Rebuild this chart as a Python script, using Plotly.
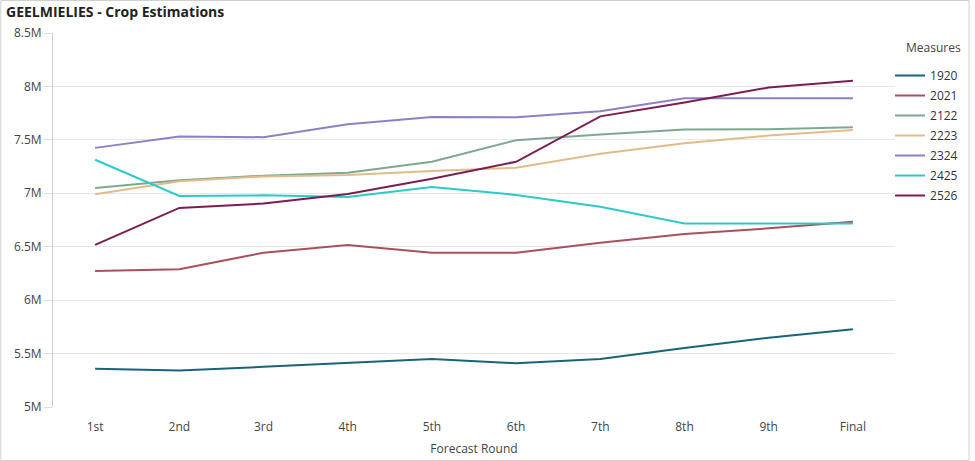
import plotly.graph_objects as go

rounds = ["1st", "2nd", "3rd", "4th", "5th", "6th", "7th", "8th", "9th", "Final"]

s1920 = [5.357, 5.342, 5.376, 5.413, 5.45, 5.41, 5.45, 5.553, 5.649, 5.727]
s2021 = [6.273, 6.289, 6.444, 6.516, 6.444, 6.444, 6.537, 6.62, 6.672, 6.733]
s2122 = [7.05, 7.121, 7.165, 7.193, 7.295, 7.497, 7.55, 7.596, 7.6, 7.618]
s2223 = [6.99, 7.112, 7.158, 7.17, 7.208, 7.239, 7.37, 7.469, 7.54, 7.593]
s2324 = [7.425, 7.531, 7.525, 7.646, 7.714, 7.712, 7.767, 7.89, 7.89, 7.89]
s2425 = [7.314, 6.975, 6.981, 6.966, 7.059, 6.985, 6.873, 6.717, 6.717, 6.717]
s2526 = [6.517, 6.863, 6.904, 6.994, 7.137, 7.295, 7.72, 7.85, 7.99, 8.053]

series = [
    ("1920", s1920, "#1b6379"),
    ("2021", s2021, "#a9505f"),
    ("2122", s2122, "#7fa890"),
    ("2223", s2223, "#e2bb8a"),
    ("2324", s2324, "#8e7fc6"),
    ("2425", s2425, "#2ec9c9"),
    ("2526", s2526, "#7a1e52"),
]

font = "Open Sans"

fig = go.Figure()
for name, vals, color in series:
    fig.add_trace(go.Scatter(
        x=rounds, y=[v * 1e6 for v in vals], name=name, mode="lines",
        legendgroup=name,
        line=dict(color=color, width=2),
    ))

L, R, T, B = 53, 75, 33, 54
W, H = 975, 461
pw, ph = W - L - R, H - T - B

fig.update_layout(
    width=W, height=H,
    margin=dict(l=L, r=R, t=T, b=B),
    paper_bgcolor="white", plot_bgcolor="white",
    font=dict(family=font, size=12, color="#444"),
    title=dict(text="<b>GEELMIELIES - Crop Estimations</b>", x=0, xref="container",
               xanchor="left", y=1, yref="container", yanchor="top", pad=dict(l=6, t=7),
               font=dict(family=font, size=14, color="#222")),
    showlegend=True,
    legend=dict(x=(895 - L) / pw, xanchor="left", y=1 - (61 - T) / ph, yanchor="top",
                font=dict(size=12, color="#333"), itemwidth=30,
                tracegroupgap=1, bgcolor="rgba(0,0,0,0)"),
    xaxis=dict(showgrid=False, showline=False, ticks="outside", ticklen=9,
               tickcolor="rgba(0,0,0,0)", range=[-0.5, 9.5], automargin=False,
               title=dict(text="Forecast Round", font=dict(size=12, color="#444"), standoff=10),
               tickfont=dict(size=12, color="#444")),
    yaxis=dict(range=[5e6, 8.5e6], dtick=5e5, tickformat="~s", automargin=False,
               showgrid=True, gridcolor="#e8e8e8", gridwidth=1,
               showline=True, linecolor="#cccccc", linewidth=1,
               ticks="outside", ticklen=8, tickcolor="#dddddd",
               zeroline=False, tickfont=dict(size=12, color="#444")),
)

fig.add_annotation(text="Measures", xref="paper", yref="paper",
                   x=(909 - L) / pw, xanchor="left", y=1 - (47 - T) / ph, yanchor="middle",
                   showarrow=False, font=dict(size=12, color="#444"))

fig.add_shape(type="rect", xref="paper", yref="paper",
              x0=(0.5 - L) / pw, x1=(W - 0.5 - L) / pw,
              y0=-(B - 0.5) / ph, y1=1 + (T - 0.5) / ph,
              line=dict(color="#d0d0d0", width=1), fillcolor="rgba(0,0,0,0)", layer="below")

fig.write_html("out.html", config={"displayModeBar": False},
               post_script="document.body.style.margin='0';document.body.style.overflow='hidden';")
